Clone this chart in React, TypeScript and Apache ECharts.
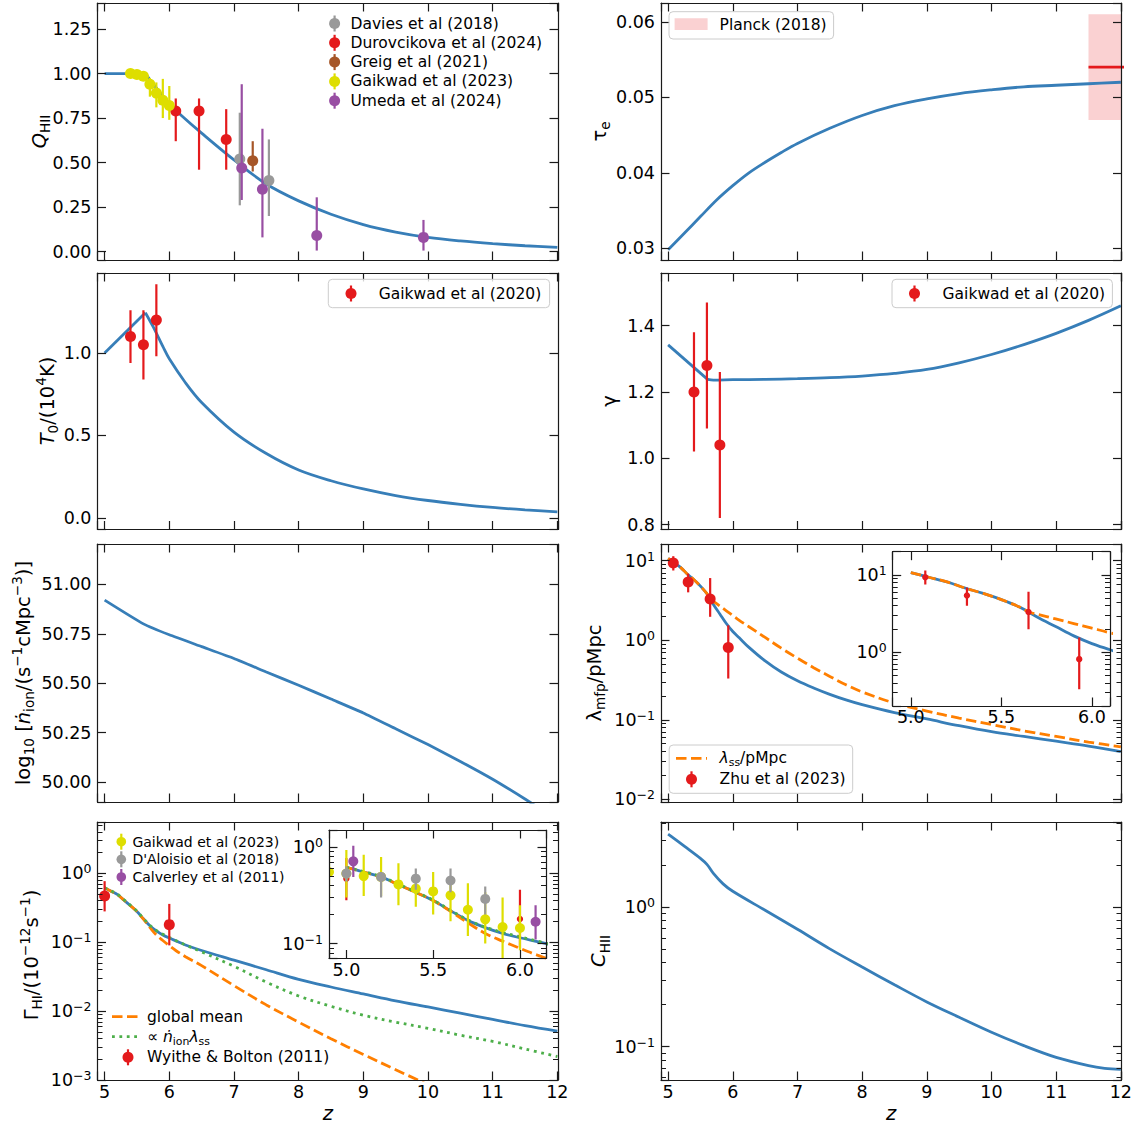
import React, { useEffect, useRef } from 'react';
import * as echarts from 'echarts';

// ---------- palette / fonts ----------
const F = 'DejaVu Sans';
const INK = '#1a1a1a';
const BLUE = '#377eb8';
const ORANGE = '#ff7f00';
const GREEN = '#4daf4a';
const RED = '#e41a1c';
const PURPLE = '#984ea3';
const GRAY = '#999999';
const BROWN = '#a65628';
const YELLOW = '#dede00';

// ---------- ionized fraction Q_HII ----------
const qFlatZ = [5.0, 5.63];
const qFlat = [1.0, 1.0];
const qZ = [5.63, 5.8, 6.0, 6.2, 6.5, 7.0, 7.5, 8.0, 8.5, 9.0, 9.5, 10.0, 10.5, 11.0, 11.5, 12.0];
const qModel = [1.0, 0.92, 0.83, 0.76, 0.665, 0.515, 0.38, 0.285, 0.21, 0.152, 0.11, 0.08, 0.06, 0.045, 0.033, 0.024];

const daviesZ = [7.09, 7.54];
const daviesQ = [0.52, 0.4];
const daviesLo = [0.26, 0.2];
const daviesHi = [0.78, 0.63];

const durovZ = [6.1, 6.46, 6.88];
const durovQ = [0.79, 0.79, 0.63];
const durovLo = [0.62, 0.46, 0.46];
const durovHi = [0.86, 0.86, 0.8];

const greigZ = [7.29];
const greigQ = [0.51];
const greigLo = [0.45];
const greigHi = [0.62];

const gaik23QZ = [5.4, 5.5, 5.6, 5.7, 5.8, 5.9, 6.0];
const gaik23Q = [1.0, 0.995, 0.985, 0.94, 0.89, 0.85, 0.82];
const gaik23QLo = [0.995, 0.985, 0.97, 0.87, 0.81, 0.75, 0.74];
const gaik23QHi = [1.0, 1.0, 1.0, 0.975, 0.95, 0.97, 0.93];

const umedaZ = [7.12, 7.44, 8.28, 9.93];
const umedaQ = [0.47, 0.35, 0.09, 0.08];
const umedaLo = [0.29, 0.08, 0.006, 0.006];
const umedaHi = [0.94, 0.69, 0.305, 0.178];

// ---------- optical depth tau_e ----------
const tauZ = [5.0, 5.25, 5.5, 5.75, 6.0, 6.25, 6.5, 6.75, 7.0, 7.5, 8.0, 8.5, 9.0, 9.5, 10.0, 10.5, 11.0, 11.5, 12.0];
const tauModel = [0.0298, 0.032, 0.0342, 0.0364, 0.0383, 0.04, 0.0414, 0.0427, 0.0439, 0.0459, 0.0476, 0.0489, 0.0498, 0.0505, 0.051, 0.0514, 0.0516, 0.0518, 0.052];
const planckZ = [11.5, 12.5];
const planckTau = 0.054;
const planckLo = 0.047;
const planckHi = 0.061;

// ---------- temperature T_0 ----------
const t0RiseZ = [5.0, 5.63];
const t0Rise = [1.0, 1.245];
const t0Z = [5.63, 5.75, 5.9, 6.0, 6.25, 6.5, 7.0, 7.5, 8.0, 8.5, 9.0, 9.5, 10.0, 10.5, 11.0, 11.5, 12.0];
const t0Model = [1.245, 1.16, 1.04, 0.965, 0.82, 0.7, 0.52, 0.39, 0.29, 0.225, 0.175, 0.135, 0.105, 0.082, 0.063, 0.048, 0.036];
const gaik20Z = [5.4, 5.6, 5.8];
const gaik20T = [1.1, 1.05, 1.2];
const gaik20TLo = [0.94, 0.84, 0.98];
const gaik20THi = [1.26, 1.26, 1.417];

// ---------- slope gamma ----------
const gamFallZ = [5.0, 5.61];
const gamFall = [1.342, 1.238];
const gamZ = [5.61, 5.7, 6.0, 6.5, 7.0, 7.5, 8.0, 8.5, 9.0, 9.5, 10.0, 10.5, 11.0, 11.5, 12.0];
const gamModel = [1.238, 1.236, 1.237, 1.238, 1.24, 1.243, 1.248, 1.256, 1.268, 1.288, 1.313, 1.343, 1.377, 1.416, 1.46];
const gaik20G = [1.2, 1.28, 1.04];
const gaik20GLo = [1.02, 1.09, 0.82];
const gaik20GHi = [1.38, 1.47, 1.26];

// ---------- emissivity log10 n_ion ----------
const nionZ = [5.0, 5.6, 6.0, 6.5, 7.0, 7.5, 8.0, 8.5, 9.0, 9.5, 10.0, 10.5, 11.0, 11.5, 12.0];
const nionLog = [50.92, 50.8, 50.745, 50.685, 50.625, 50.557, 50.49, 50.42, 50.35, 50.27, 50.19, 50.105, 50.015, 49.915, 49.81];

// ---------- mean free path (log10 pMpc) ----------
const lamZ = [5.0, 5.1, 5.2, 5.3, 5.4, 5.5, 5.6, 5.65, 5.7, 5.8, 5.9, 6.0, 6.1, 6.25, 6.5, 6.75, 7.0, 7.25, 7.5, 7.75, 8.0, 8.5, 9.0, 9.5, 10.0, 10.5, 11.0, 11.5, 12.0];
const lamMfpLog = [1.03, 0.97, 0.91, 0.83, 0.76, 0.68, 0.585, 0.52, 0.45, 0.33, 0.21, 0.11, 0.03, -0.09, -0.26, -0.4, -0.51, -0.6, -0.68, -0.75, -0.81, -0.91, -0.99, -1.075, -1.15, -1.21, -1.27, -1.33, -1.4];
const lamSsLog = [1.03, 0.97, 0.91, 0.83, 0.76, 0.68, 0.585, 0.52, 0.49, 0.43, 0.37, 0.31, 0.25, 0.17, 0.035, -0.1, -0.225, -0.345, -0.455, -0.56, -0.65, -0.79, -0.89, -0.98, -1.06, -1.14, -1.21, -1.28, -1.34];
const zhuZ = [5.08, 5.31, 5.65, 5.93];
const zhuLam = [9.33, 5.4, 3.31, 0.81];
const zhuLo = [7.53, 4.0, 1.97, 0.33];
const zhuHi = [11.39, 6.87, 6.05, 1.54];

// ---------- photoionization rate (log10 1e-12 s^-1) ----------
const gamHZ = [5.0, 5.1, 5.2, 5.3, 5.4, 5.5, 5.6, 5.7, 5.8, 5.9, 6.0, 6.1, 6.25, 6.5, 7.0, 7.5, 8.0, 8.5, 9.0, 9.5, 10.0, 10.5, 11.0, 11.5, 12.0];
const gamHLog = [-0.21, -0.26, -0.31, -0.39, -0.47, -0.555, -0.66, -0.76, -0.835, -0.895, -0.94, -0.98, -1.04, -1.12, -1.26, -1.4, -1.54, -1.65, -1.75, -1.85, -1.94, -2.03, -2.12, -2.21, -2.29];
const gamPropLog = [-0.21, -0.255, -0.305, -0.385, -0.465, -0.55, -0.655, -0.755, -0.83, -0.885, -0.93, -0.975, -1.04, -1.14, -1.35, -1.58, -1.78, -1.93, -2.06, -2.16, -2.25, -2.35, -2.44, -2.55, -2.66];
const gamMeanZ = [5.0, 5.1, 5.2, 5.3, 5.4, 5.5, 5.6, 5.7, 5.8, 5.9, 6.0, 6.1, 6.25, 6.5, 7.0, 7.5, 8.0, 8.5, 9.0, 9.5, 10.0];
const gamMeanLog = [-0.21, -0.26, -0.31, -0.39, -0.47, -0.555, -0.665, -0.785, -0.895, -0.975, -1.05, -1.12, -1.21, -1.34, -1.63, -1.91, -2.16, -2.4, -2.63, -2.85, -3.07];

const wbZ = [5.0, 6.0];
const wbG = [0.47, 0.18];
const wbLo = [0.28, 0.09];
const wbHi = [0.77, 0.36];

const gaik23GZ = [4.9, 5.0, 5.1, 5.2, 5.3, 5.4, 5.5, 5.6, 5.7, 5.8, 5.9, 6.0];
const gaik23G = [0.55, 0.53, 0.5, 0.49, 0.41, 0.37, 0.347, 0.316, 0.224, 0.178, 0.148, 0.145];
const gaik23GLo = [0.3, 0.3, 0.31, 0.31, 0.25, 0.24, 0.2, 0.17, 0.12, 0.1, 0.05, 0.085];
const gaik23GHi = [0.83, 0.93, 0.83, 0.79, 0.68, 0.51, 0.55, 0.45, 0.42, 0.34, 0.3, 0.25];

const daloZ = [5.0, 5.2, 5.4, 5.6, 5.8];
const daloG = [0.53, 0.49, 0.47, 0.45, 0.29];
const daloLo = [0.44, 0.3, 0.36, 0.34, 0.2];
const daloHi = [0.63, 0.55, 0.6, 0.6, 0.39];

const calvZ = [5.04, 6.09];
const calvG = [0.71, 0.168];
const calvLo = [0.49, 0.11];
const calvHi = [1.03, 0.25];

// ---------- clumping factor (log10) ----------
const clumpZ = [5.0, 5.25, 5.5, 5.6, 5.7, 5.85, 6.0, 6.5, 7.0, 7.5, 8.0, 8.5, 9.0, 9.5, 10.0, 10.5, 11.0, 11.5, 11.75, 12.0];
const clumpLog = [0.522, 0.435, 0.347, 0.305, 0.24, 0.165, 0.112, -0.024, -0.16, -0.3, -0.43, -0.557, -0.68, -0.79, -0.897, -0.993, -1.077, -1.136, -1.155, -1.162];

// ---------- helpers ----------
const p10 = (v: number) => Math.pow(10, v);
const pairs = (xs: number[], ys: number[], f: (v: number) => number = (v) => v) => xs.map((x, i) => [x, f(ys[i])]);
const supTxt = (n: number) => (n < 0 ? '\u2212' + Math.abs(n) : String(n));

const TICK_FS = 17.5;
const tickRich = {
  b: { fontSize: TICK_FS, fontFamily: F, color: '#000', lineHeight: 22 },
  s: { fontSize: 12.5, fontFamily: F, color: '#000', lineHeight: 12, verticalAlign: 'top' },
};
const logLabel = (v: number) => {
  const e = Math.log10(v);
  const r = Math.round(e);
  return Math.abs(e - r) < 1e-6 ? `{b|10}{s|${supTxt(r)}}` : '';
};
const linLabel = (step: number, dec: number) => (v: number) => {
  const k = v / step;
  return Math.abs(k - Math.round(k)) < 1e-6 ? v.toFixed(dec) : '';
};

type PanelDef = {
  rect: number[];
  x: number[]; // min, max, step, decimals
  y?: number[]; // min, max, step, decimals
  ylog?: number[]; // log10 min, log10 max
  xLabels: boolean;
  front?: boolean;
};

const XR = [4.89, 12.01, 1, 0];
const panels: PanelDef[] = [
  { rect: [97.5, 3, 460.5, 257], x: XR, y: [-0.047, 1.396, 0.25, 2], xLabels: false },
  { rect: [661, 3, 460.5, 257], x: XR, y: [0.02845, 0.0625, 0.01, 2], xLabels: false },
  { rect: [97.5, 273, 460.5, 256.5], x: XR, y: [-0.071, 1.486, 0.5, 1], xLabels: false },
  { rect: [661, 273, 460.5, 256.5], x: XR, y: [0.785, 1.559, 0.2, 1], xLabels: false },
  { rect: [97.5, 544, 460.5, 258], x: XR, y: [49.9, 51.2035, 0.25, 2], xLabels: false },
  { rect: [661, 544, 460.5, 258], x: XR, ylog: [-2.034, 1.21], xLabels: false },
  { rect: [97.5, 822, 460.5, 258], x: XR, ylog: [-3, 0.745], xLabels: true },
  { rect: [661, 822, 460.5, 258], x: XR, ylog: [-1.239, 0.608], xLabels: true },
  { rect: [892.7, 551.7, 217.3, 154.3], x: [4.9, 6.1, 0.5, 1], ylog: [Math.log10(0.2), Math.log10(20)], xLabels: true, front: true },
  { rect: [329, 830, 217, 128.5], x: [4.9, 6.15, 0.5, 1], ylog: [Math.log10(0.07), Math.log10(1.5)], xLabels: true, front: true },
];

function buildAxes() {
  const grid: any[] = [];
  const xAxis: any[] = [];
  const yAxis: any[] = [];
  panels.forEach((d, gi) => {
    const [left, top, width, height] = d.rect;
    const az = d.front ? 15 : 5;
    grid.push({
      left, top, width, height,
      containLabel: false,
      outerBoundsMode: 'none',
      show: !!d.front,
      backgroundColor: '#ffffff',
      borderWidth: 0,
      z: d.front ? 10 : 0,
    });
    const line = { show: true, onZero: false, lineStyle: { color: INK, width: 1.2 } };
    const tick = { show: true, inside: true, length: 8.5, lineStyle: { color: INK, width: 1.2 } };
    ['bottom', 'top'].forEach((pos) => {
      xAxis.push({
        type: 'value', gridIndex: gi, position: pos, z: az,
        min: d.x[0], max: d.x[1], minInterval: d.x[2], maxInterval: d.x[2],
        axisLine: line, axisTick: tick, splitLine: { show: false },
        axisLabel: {
          show: pos === 'bottom' && d.xLabels,
          formatter: linLabel(d.x[2], d.x[3]),
          fontSize: TICK_FS, fontFamily: F, color: '#000',
          margin: d.front ? 2 : 3,
        },
      });
    });
    ['left', 'right'].forEach((pos) => {
      const common: any = {
        gridIndex: gi, position: pos, z: az,
        axisLine: line, axisTick: tick, splitLine: { show: false },
      };
      if (d.ylog) {
        Object.assign(common, {
          type: 'log', logBase: 10, min: p10(d.ylog[0]), max: p10(d.ylog[1]),
          minorTick: { show: true, splitNumber: 9, length: 5, lineStyle: { color: INK, width: 1 } },
          minorSplitLine: { show: false },
          axisLabel: {
            show: pos === 'left', formatter: logLabel, rich: tickRich,
            fontSize: TICK_FS, fontFamily: F, color: '#000', margin: 6,
          },
        });
      } else if (d.y) {
        Object.assign(common, {
          type: 'value', min: d.y[0], max: d.y[1], minInterval: d.y[2], maxInterval: d.y[2],
          axisLabel: {
            show: pos === 'left', formatter: linLabel(d.y[2], d.y[3]),
            fontSize: TICK_FS, fontFamily: F, color: '#000', margin: 6,
          },
        });
      }
      yAxis.push(common);
    });
  });
  return { grid, xAxis, yAxis };
}

function lineSeries(gi: number, data: number[][], color: string, z: number, extra: any = {}) {
  return {
    type: 'line', xAxisIndex: 2 * gi, yAxisIndex: 2 * gi, data, z,
    showSymbol: false, symbol: 'none', silent: true, clip: true,
    smooth: extra.smooth ?? 0.35,
    lineStyle: { color, width: 2.8, cap: 'butt', ...(extra.lineStyle || {}) },
  };
}

function errorPoints(gi: number, zs: number[], vs: number[], lo: number[], hi: number[], color: string, r: number, z: number) {
  return {
    type: 'custom', xAxisIndex: 2 * gi, yAxisIndex: 2 * gi, z, clip: true, silent: true,
    data: zs.map((x, i) => [x, vs[i], lo[i], hi[i]]),
    encode: { x: 0, y: [1, 2, 3] },
    renderItem: (_p: any, api: any) => {
      const x = api.value(0);
      const c = api.coord([x, api.value(1)]);
      const a = api.coord([x, api.value(2)]);
      const b = api.coord([x, api.value(3)]);
      return {
        type: 'group',
        children: [
          { type: 'line', shape: { x1: a[0], y1: a[1], x2: b[0], y2: b[1] }, style: { stroke: color, lineWidth: 2.2 } },
          { type: 'circle', shape: { cx: c[0], cy: c[1], r }, style: { fill: color } },
        ],
      };
    },
  };
}

// ---------- text styles ----------
const T_FS = 19.5;
const T_SUB = 13.6;
const titleRich = {
  n: { fontSize: T_FS, fontFamily: F, fill: '#000', lineHeight: 26 },
  i: { fontSize: T_FS, fontFamily: F, fill: '#000', fontStyle: 'italic', lineHeight: 26 },
  sub: { fontSize: T_SUB, fontFamily: F, fill: '#000', lineHeight: 14, verticalAlign: 'bottom' },
  sup: { fontSize: T_SUB, fontFamily: F, fill: '#000', lineHeight: 14, verticalAlign: 'top' },
};
const LEG_FS = 15.5;
const legRich = {
  n: { fontSize: LEG_FS, fontFamily: F, fill: '#000', lineHeight: 20 },
  i: { fontSize: LEG_FS, fontFamily: F, fill: '#000', fontStyle: 'italic', lineHeight: 20 },
  sub: { fontSize: 10.9, fontFamily: F, fill: '#000', lineHeight: 11, verticalAlign: 'bottom' },
};

function title(x: number, y: number, text: string, rotate = true) {
  return {
    type: 'text', x, y, z: 60, rotation: rotate ? Math.PI / 2 : 0,
    style: { text, rich: titleRich, fontSize: T_FS, fontFamily: F, fill: '#000', align: 'center', verticalAlign: 'middle' },
  };
}
function legText(x: number, y: number, text: string, fs = LEG_FS) {
  return {
    type: 'text', x, y, z: 60,
    style: { text, rich: legRich, fontSize: fs, fontFamily: F, fill: '#000', align: 'left', verticalAlign: 'middle' },
  };
}
function legMarker(x: number, y: number, color: string, r: number, half: number) {
  return [
    { type: 'line', z: 60, shape: { x1: x, y1: y - half, x2: x, y2: y + half }, style: { stroke: color, lineWidth: 2.2 } },
    { type: 'circle', z: 61, shape: { cx: x, cy: y, r }, style: { fill: color } },
  ];
}
function legLine(x1: number, x2: number, y: number, color: string, dash: number[]) {
  return { type: 'line', z: 60, shape: { x1, y1: y, x2, y2: y }, style: { stroke: color, lineWidth: 2.8, lineDash: dash } };
}
function legBox(x: number, y: number, w: number, h: number) {
  return { type: 'rect', z: 58, shape: { x, y, width: w, height: h, r: 4 }, style: { fill: 'rgba(255,255,255,0.8)', stroke: '#cccccc', lineWidth: 1 } };
}

const DASH = [10.5, 4.5];
const DOT = [2.8, 4.6];

function buildOption() {
  const { grid, xAxis, yAxis } = buildAxes();
  const series: any[] = [
    // Q_HII
    lineSeries(0, pairs(qFlatZ, qFlat), BLUE, 2, { smooth: 0 }),
    lineSeries(0, pairs(qZ, qModel), BLUE, 2),
    errorPoints(0, daviesZ, daviesQ, daviesLo, daviesHi, GRAY, 5.5, 4),
    errorPoints(0, durovZ, durovQ, durovLo, durovHi, RED, 5.5, 4),
    errorPoints(0, greigZ, greigQ, greigLo, greigHi, BROWN, 5.5, 4),
    errorPoints(0, gaik23QZ, gaik23Q, gaik23QLo, gaik23QHi, YELLOW, 5.5, 4),
    errorPoints(0, umedaZ, umedaQ, umedaLo, umedaHi, PURPLE, 5.5, 4),
    // tau_e
    {
      type: 'custom', xAxisIndex: 2, yAxisIndex: 2, z: 1, clip: true, silent: true,
      data: [[planckZ[0], planckZ[1], planckLo, planckHi]],
      encode: { x: [0, 1], y: [2, 3] },
      renderItem: (_p: any, api: any) => {
        const a = api.coord([api.value(0), api.value(3)]);
        const b = api.coord([api.value(1), api.value(2)]);
        return { type: 'rect', shape: { x: a[0], y: a[1], width: b[0] - a[0], height: b[1] - a[1] }, style: { fill: 'rgba(228,26,28,0.2)' } };
      },
    },
    lineSeries(1, planckZ.map((z) => [z, planckTau]), RED, 2, { smooth: 0 }),
    lineSeries(1, pairs(tauZ, tauModel), BLUE, 3),
    // T_0
    lineSeries(2, pairs(t0RiseZ, t0Rise), BLUE, 2, { smooth: 0 }),
    lineSeries(2, pairs(t0Z, t0Model), BLUE, 2),
    errorPoints(2, gaik20Z, gaik20T, gaik20TLo, gaik20THi, RED, 5.5, 4),
    // gamma
    lineSeries(3, pairs(gamFallZ, gamFall), BLUE, 2, { smooth: 0 }),
    lineSeries(3, pairs(gamZ, gamModel), BLUE, 2),
    errorPoints(3, gaik20Z, gaik20G, gaik20GLo, gaik20GHi, RED, 5.5, 4),
    // n_ion
    lineSeries(4, pairs(nionZ, nionLog), BLUE, 2, { smooth: 0.15 }),
    // mean free path
    lineSeries(5, pairs(lamZ, lamMfpLog, p10), BLUE, 2),
    lineSeries(5, pairs(lamZ, lamSsLog, p10), ORANGE, 3, { lineStyle: { type: DASH } }),
    errorPoints(5, zhuZ, zhuLam, zhuLo, zhuHi, RED, 5.5, 4),
    // mean free path inset
    lineSeries(8, pairs(lamZ, lamMfpLog, p10), BLUE, 12),
    lineSeries(8, pairs(lamZ, lamSsLog, p10), ORANGE, 13, { lineStyle: { type: DASH } }),
    errorPoints(8, zhuZ, zhuLam, zhuLo, zhuHi, RED, 3.2, 14),
    // photoionization rate
    lineSeries(6, pairs(gamHZ, gamHLog, p10), BLUE, 2),
    lineSeries(6, pairs(gamMeanZ, gamMeanLog, p10), ORANGE, 3, { lineStyle: { type: DASH } }),
    lineSeries(6, pairs(gamHZ, gamPropLog, p10), GREEN, 3, { lineStyle: { type: DOT } }),
    errorPoints(6, wbZ, wbG, wbLo, wbHi, RED, 5.5, 4),
    // photoionization rate inset
    lineSeries(9, pairs(gamHZ, gamHLog, p10), BLUE, 12),
    lineSeries(9, pairs(gamMeanZ, gamMeanLog, p10), ORANGE, 13, { lineStyle: { type: DASH } }),
    lineSeries(9, pairs(gamHZ, gamPropLog, p10), GREEN, 13, { lineStyle: { type: DOT } }),
    errorPoints(9, wbZ, wbG, wbLo, wbHi, RED, 3.2, 14),
    errorPoints(9, gaik23GZ, gaik23G, gaik23GLo, gaik23GHi, YELLOW, 5, 14),
    errorPoints(9, daloZ, daloG, daloLo, daloHi, GRAY, 5, 14),
    errorPoints(9, calvZ, calvG, calvLo, calvHi, PURPLE, 5, 14),
    // clumping factor
    lineSeries(7, pairs(clumpZ, clumpLog, p10), BLUE, 2),
  ];

  const legendRows = [23.5, 42.8, 62.1, 81.4, 100.7];
  const q = [
    ['Davies et al (2018)', GRAY],
    ['Durovcikova et al (2024)', RED],
    ['Greig et al (2021)', BROWN],
    ['Gaikwad et al (2023)', YELLOW],
    ['Umeda et al (2024)', PURPLE],
  ];
  const gInset = [
    ['Gaikwad et al (2023)', YELLOW],
    ["D'Aloisio et al (2018)", GRAY],
    ['Calverley et al (2011)', PURPLE],
  ];
  const gInsetRows = [841.7, 859.3, 877];

  const elements: any[] = [
    // axis titles
    title(39, 131.5, '{i|Q}{sub|HII}'),
    title(599, 131.5, '{n|\u03c4}{sub|e}'),
    title(47, 401, '{i|T}{sub|0}{n|/(10}{sup|4}{n|K)}'),
    title(609, 401, '{n|\u03b3}'),
    title(23, 673, '{n|log}{sub|10}{n| [}{i|\u1e45}{sub|ion}{n|/(s}{sup|\u22121}{n|cMpc}{sup|\u22123}{n|)]}'),
    title(594, 673, '{n|\u03bb}{sub|mfp}{n|/pMpc}'),
    title(31, 955, '{n|\u0393}{sub|HI}{n|/(10}{sup|\u221212}{n|s}{sup|\u22121}{n|)}'),
    title(598.5, 951, '{i|C}{sub|HII}'),
    title(327.8, 1113, '{i|z}', false),
    title(891, 1113, '{i|z}', false),
  ];
  q.forEach(([name, color], i) => {
    elements.push(...legMarker(334.6, legendRows[i], color, 5.5, 8));
    elements.push(legText(350.5, legendRows[i], name));
  });
  // tau legend
  elements.push(legBox(669, 11.7, 164.6, 27.3));
  elements.push({ type: 'rect', z: 60, shape: { x: 674.6, y: 18.3, width: 33, height: 11.7 }, style: { fill: 'rgba(228,26,28,0.2)' } });
  elements.push(legText(719.6, 25, 'Planck (2018)'));
  // T0 legend
  elements.push(legBox(328.3, 279.3, 221.3, 28.4));
  elements.push(...legMarker(351, 293.5, RED, 5.5, 8));
  elements.push(legText(378.7, 293.5, 'Gaikwad et al (2020)'));
  // gamma legend
  elements.push(legBox(892, 279.3, 220.4, 28.4));
  elements.push(...legMarker(914.5, 293.5, RED, 5.5, 8));
  elements.push(legText(942.6, 293.5, 'Gaikwad et al (2020)'));
  // mean free path legend
  elements.push(legBox(669.2, 745, 183.5, 48.3));
  elements.push(legLine(676, 707, 758.3, ORANGE, DASH));
  elements.push(legText(719.6, 758.3, '{i|\u03bb}{sub|ss}{n|/pMpc}'));
  elements.push(...legMarker(691.5, 779.3, RED, 5.5, 8));
  elements.push(legText(719.6, 779.3, 'Zhu et al (2023)'));
  // photoionization legends
  gInset.forEach(([name, color], i) => {
    elements.push(...legMarker(121.3, gInsetRows[i], color, 4.8, 8));
    elements.push(legText(132.4, gInsetRows[i], name, 14));
  });
  elements.push(legLine(112, 141.5, 1016.7, ORANGE, DASH));
  elements.push(legText(147, 1016.7, 'global mean'));
  elements.push(legLine(112, 141.5, 1036.7, GREEN, DOT));
  elements.push(legText(147, 1037, '{n|\u221d }{i|\u1e45}{sub|ion}{i|\u03bb}{sub|ss}'));
  elements.push(...legMarker(128, 1057.3, RED, 5.5, 8));
  elements.push(legText(147, 1057.3, 'Wyithe & Bolton (2011)'));

  return {
    animation: false,
    backgroundColor: '#ffffff',
    textStyle: { fontFamily: F },
    grid, xAxis, yAxis, series,
    graphic: { elements },
  };
}

export default function App() {
  const ref = useRef<HTMLDivElement>(null);
  useEffect(() => {
    if (!ref.current) return;
    const chart = echarts.init(ref.current, undefined, { renderer: 'svg' });
    chart.setOption(buildOption() as any);
    return () => chart.dispose();
  }, []);
  return (
    <div
      ref={ref}
      style={{ position: 'absolute', left: 0, top: 0, width: 1147, height: 1128, background: '#fff' }}
    />
  );
}
